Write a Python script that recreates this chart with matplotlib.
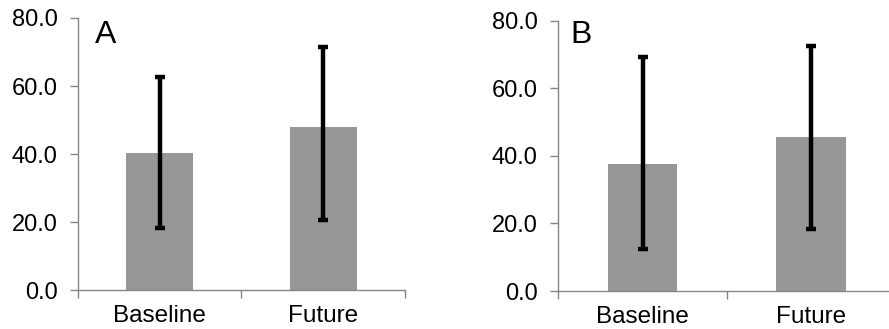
import numpy as np
import matplotlib.pyplot as plt

plt.rcParams['font.family'] = ['Liberation Sans', 'DejaVu Sans']

categories = ['Baseline', 'Future']
panel_labels = ['A', 'B']
means = [[40.2, 47.8], [37.5, 45.7]]
err_low = [[18.1, 20.5], [12.3, 18.3]]
err_high = [[62.6, 71.5], [69.4, 72.6]]
yticks = [0, 20, 40, 60, 80]

fig = plt.figure(figsize=(8.89, 3.29), dpi=100)
boxes = [[0.0877, 0.1185, 0.3679, 0.8268],
         [0.628, 0.1155, 0.379, 0.8207]]
label_pos = [(0.052, 0.909), (0.035, 0.918)]

axis_col = '#868686'
for k in range(2):
    ax = fig.add_axes(boxes[k])
    x = np.arange(len(categories))
    m = np.array(means[k])
    lo = m - np.array(err_low[k])
    hi = np.array(err_high[k]) - m
    ax.bar(x, m, width=0.41, color='#979797', zorder=2)
    ax.errorbar(x, m, yerr=[lo, hi], fmt='none', ecolor='black',
                elinewidth=3.2, capsize=3.3, capthick=3.2, zorder=3)
    ax.set_xlim(-0.5, 1.5)
    ax.set_ylim(0, 80)
    ax.set_yticks(yticks)
    ax.set_yticklabels(['%.1f' % v for v in yticks])
    ax.set_xticks(x)
    ax.set_xticklabels(categories)
    ax.set_xticks([-0.5, 0.5, 1.5], minor=True)
    ax.tick_params(axis='x', which='major', length=0, pad=11, labelsize=17.5, colors='black')
    ax.tick_params(axis='x', which='minor', length=5.5, width=1, color=axis_col)
    ax.tick_params(axis='y', length=5.8, width=1, color=axis_col, pad=9, labelsize=17)
    for s in ['top', 'right']:
        ax.spines[s].set_visible(False)
    for s in ['left', 'bottom']:
        ax.spines[s].set_color(axis_col)
        ax.spines[s].set_linewidth(1)
    ax.spines['bottom'].set_zorder(4)
    ax.text(label_pos[k][0], label_pos[k][1], panel_labels[k], transform=ax.transAxes,
            fontsize=23, va='baseline', ha='left')

fig.savefig('out.png', dpi=100)
